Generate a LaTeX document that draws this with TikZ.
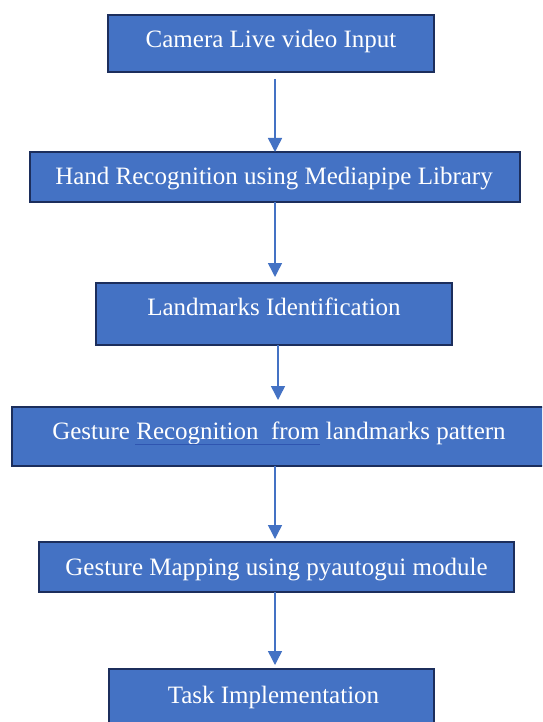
\documentclass[tikz,border=0pt]{standalone}
\usepackage{fontspec}
\IfFontExistsTF{LiberationSerif-Regular.ttf}
  {\newfontfamily\boxfont{LiberationSerif-Regular.ttf}}
  {\newfontfamily\boxfont[FakeStretch=0.9]{lmroman10-regular.otf}}
\usetikzlibrary{arrows.meta}
\definecolor{boxfill}{HTML}{4472C4}
\definecolor{boxline}{HTML}{1C2E5C}
\definecolor{arrowcol}{HTML}{4472C4}
\definecolor{ulcol}{HTML}{2F55B0}
\begin{document}
\begin{tikzpicture}[x=1pt,y=-1pt,
  stepbox/.style={draw=boxline,fill=boxfill,line width=2pt,inner sep=0pt,outer sep=0pt,rectangle},
  lbl/.style={anchor=base,text=white,inner sep=0pt,font=\boxfont\fontsize{25}{30}\selectfont},
  arr/.style={draw=arrowcol,line width=1.5pt,-{Triangle[width=14pt,length=14pt]}}]
\useasboundingbox (0,0) rectangle (542,722);
\clip (0,0) rectangle (542,722);
\fill[white] (0,0) rectangle (542,722);
% boxes
\node[stepbox,minimum width=326pt,minimum height=57pt] (b1) at (271,43.5) {};
\node[stepbox,minimum width=490pt,minimum height=50pt] (b2) at (275,177) {};
\node[stepbox,minimum width=356pt,minimum height=62pt] (b3) at (274,314) {};
\node[stepbox,minimum width=547pt,minimum height=59pt] (b4) at (285.5,436.5) {};
\node[stepbox,minimum width=475pt,minimum height=50pt] (b5) at (276.5,567) {};
\node[stepbox,minimum width=325pt,minimum height=70pt] (b6) at (271.5,704) {};
% texts
\node[lbl] (t1) at (271,48) {Camera Live video Input};
\node[lbl] (t2) at (274,185) {Hand Recognition using Mediapipe Library};
\node[lbl] (t3) at (274,315) {Landmarks Identification};
\node[lbl] (t4) at (279,439) {Gesture Recognition\ \ from landmarks pattern};
\node[lbl] (t5) at (276.5,575) {Gesture Mapping using pyautogui module};
\node[lbl] (t6) at (273.5,703) {Task Implementation};
% underline mark
\draw[ulcol,line width=0.8pt] (135,444.5) -- (320,444.5);
% arrows
\draw[arr] ([xshift=4pt,yshift=-7pt]b1.south) -- (b2.north);
\draw[arr] (b2.south) -- ([xshift=1pt,yshift=6pt]b3.north);
\draw[arr] ([xshift=4pt]b3.south) -- ([xshift=-7.5pt,yshift=7pt]b4.north);
\draw[arr] ([xshift=-10.5pt]b4.south) -- ([xshift=-1.5pt,yshift=3pt]b5.north);
\draw[arr] ([xshift=-1.5pt]b5.south) -- ([xshift=3.5pt,yshift=4pt]b6.north);
\end{tikzpicture}
\end{document}
